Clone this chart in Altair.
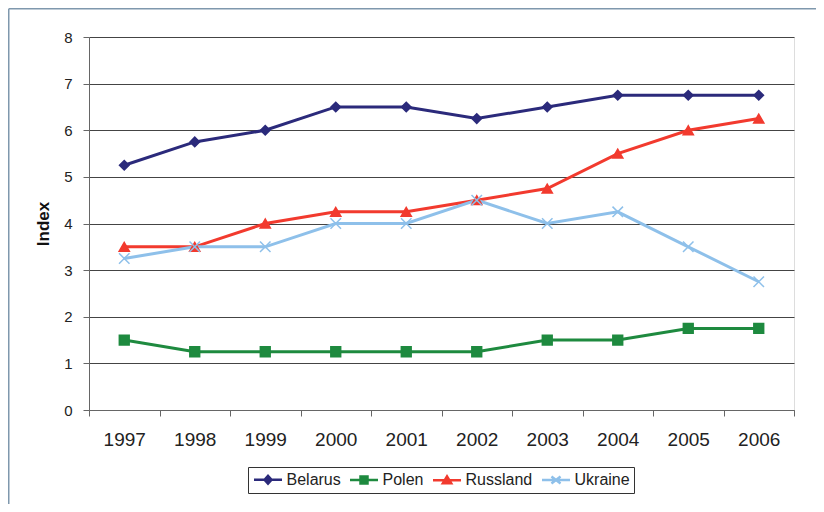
import altair as alt
import pandas as pd

years = ["1997", "1998", "1999", "2000", "2001", "2002", "2003", "2004", "2005", "2006"]
series = ["Belarus", "Polen", "Russland", "Ukraine"]
belarus = [5.25, 5.75, 6.0, 6.5, 6.5, 6.25, 6.5, 6.75, 6.75, 6.75]
polen = [1.5, 1.25, 1.25, 1.25, 1.25, 1.25, 1.5, 1.5, 1.75, 1.75]
russland = [3.5, 3.5, 4.0, 4.25, 4.25, 4.5, 4.75, 5.5, 6.0, 6.25]
ukraine = [3.25, 3.5, 3.5, 4.0, 4.0, 4.5, 4.0, 4.25, 3.5, 2.75]
y_ticks = [0, 1, 2, 3, 4, 5, 6, 7, 8]

colors = ["#2b2a7b", "#1e8a3f", "#f23a2e", "#8ec0ea"]
line_widths = [3, 3, 3, 4]
marker_shapes = ["diamond", "square", "triangle-up", "M-1,-1L1,1M-1,1L1,-1"]
marker_sizes = [90, 110, 115, 110]
legend_shapes = [
    "M-2,0L2,0M-0.5,0L0,-0.55L0.5,0L0,0.55Z",
    "M-2,0L2,0M-0.5,-0.5L0.5,-0.5L0.5,0.5L-0.5,0.5Z",
    "M-2,0L2,0M-0.6,0.45L0,-0.55L0.6,0.45Z",
    "M-2,0L2,0M-0.65,-0.5L0.65,0.5M-0.65,0.5L0.65,-0.5",
]

rows = []
for name, vals in zip(series, [belarus, polen, russland, ukraine]):
    for yr, v in zip(years, vals):
        rows.append({"year": yr, "series": name, "value": v})
df = pd.DataFrame(rows)

FONT = "Liberation Sans"
W, H = 705, 373

x_enc = alt.X(
    "year:O",
    scale=alt.Scale(type="band", paddingInner=0, paddingOuter=0),
    sort=years,
    title=None,
    axis=alt.Axis(
        labelAngle=0, tickBand="extent", grid=False, domainColor="#666",
        tickColor="#666", tickSize=6, labelFontSize=19, labelPadding=14,
        labelColor="#222", labelFont=FONT,
    ),
)
y_enc = alt.Y(
    "value:Q",
    scale=alt.Scale(domain=[0, 8]),
    title="Index",
    axis=alt.Axis(
        values=y_ticks, grid=True, gridColor="#444", gridWidth=1,
        domainColor="#666", tickColor="#666", tickSize=6, labelPadding=11,
        labelFontSize=15, labelColor="#222", labelFont=FONT,
        titleFont=FONT, titleFontSize=17, titleFontWeight="bold",
        titleColor="#111", titleAngle=270, titleX=-46, titleY=H / 2,
        titleAlign="center", titleBaseline="middle",
    ),
)

cscale = alt.Scale(domain=series, range=colors)
base = alt.Chart(df)

lines = base.mark_line().encode(
    x=x_enc, y=y_enc,
    color=alt.Color("series:N", scale=cscale, legend=None),
    strokeWidth=alt.StrokeWidth("series:N", scale=alt.Scale(domain=series, range=line_widths), legend=None),
)

points = base.mark_point(filled=True, opacity=1, strokeWidth=1.5).encode(
    x=x_enc, y=y_enc,
    color=alt.Color("series:N", scale=cscale, legend=None),
    stroke=alt.Stroke("series:N", scale=cscale, legend=None),
    shape=alt.Shape("series:N", scale=alt.Scale(domain=series, range=marker_shapes), legend=None),
    size=alt.Size("series:N", scale=alt.Scale(domain=series, range=marker_sizes), legend=None),
)

leg = alt.Legend(
    title=None, orient="none", legendX=159, legendY=430, direction="horizontal",
    strokeColor="#333", padding=4, symbolSize=196, symbolStrokeWidth=2.5,
    symbolOffset=7.5, labelOffset=10, columnPadding=4,
    labelFont=FONT, labelFontSize=16, labelColor="#222",
)

legend_layer = base.transform_filter("false").mark_point(filled=True, opacity=1, strokeWidth=2.5).encode(
    x=x_enc, y=y_enc,
    color=alt.Color("series:N", scale=cscale, legend=leg),
    stroke=alt.Stroke("series:N", scale=cscale, legend=leg),
    shape=alt.Shape("series:N", scale=alt.Scale(domain=series, range=legend_shapes), legend=leg),
)

frame_left = alt.Chart(alt.Data(values=[{"k": 1}])).mark_rule(color="#7f98ad", strokeWidth=1.5).encode(
    x=alt.value(-80.25), y=alt.value(-28.25), y2=alt.value(H + 94)
)
frame_top = alt.Chart(alt.Data(values=[{"k": 1}])).mark_rule(color="#7f98ad", strokeWidth=1.5).encode(
    x=alt.value(-80.25), x2=alt.value(W + 22), y=alt.value(-28.25)
)

chart = alt.layer(frame_left, frame_top, lines, points, legend_layer).resolve_scale(
    color="independent", stroke="independent", shape="independent", size="independent"
).properties(
    width=W, height=H,
    autosize=alt.AutoSizeParams(type="none"),
    padding={"left": 81, "top": 29, "right": 22, "bottom": 94},
).configure_view(
    stroke="#b0b0b0", strokeWidth=1
).configure(background="white")

chart.save("out.html", embed_options={"renderer": "svg", "actions": False})
